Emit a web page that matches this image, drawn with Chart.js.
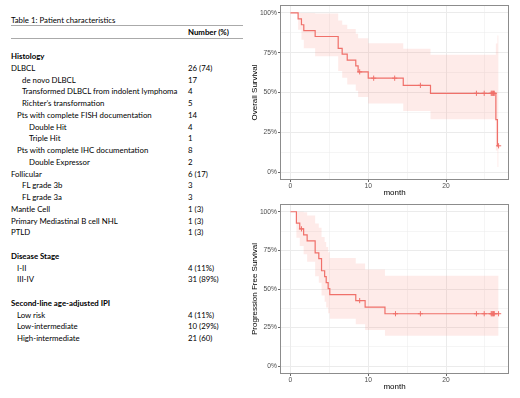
<!DOCTYPE html>
<html>
<head>
<meta charset="utf-8">
<script src="https://cdn.jsdelivr.net/npm/chart.js@4.4.0/dist/chart.umd.min.js"></script>
<style>
  html, body { margin: 0; padding: 0; background: #fff; }
  body { width: 520px; height: 398px; position: relative; overflow: hidden; color: #000; font-family: Lato, "Open Sans", sans-serif; }
  .row { position: absolute; white-space: nowrap; line-height: 12px; height: 12px; }
  .rule { position: absolute; left: 11px; width: 232px; height: 0; border-top: 1px solid #aaa; }
  canvas { position: absolute; }
</style>
</head>
<body>
<div id="table"></div>
<canvas id="osChart" width="265" height="200" style="left:250px;top:0px"></canvas>
<canvas id="pfsChart" width="265" height="203" style="left:250px;top:195px"></canvas>
<script>
// table rows (slot = row number below the header)
const rowLabels = ["Histology", "DLBCL", "de novo DLBCL", "Transformed DLBCL from indolent lymphoma",
  "Richter’s transformation", "Pts with complete FISH documentation", "Double Hit", "Triple Hit",
  "Pts with complete IHC documentation", "Double Expressor", "Follicular", "FL grade 3b", "FL grade 3a",
  "Mantle Cell", "Primary Mediastinal B cell NHL", "PTLD", "", "Disease Stage", "I-II", "III-IV", "",
  "Second-line age-adjusted IPI", "Low risk", "Low-intermediate", "High-intermediate"];
const rowValues = ["", "26 (74)", "17", "4", "5", "14", "4", "1", "8", "2", "6 (17)", "3", "3",
  "1 (3)", "1 (3)", "1 (3)", "", "", "4 (11%)", "31 (89%)", "", "", "4 (11%)", "10 (29%)", "21 (60)"];
const rowLevel = [0, 0, 2, 2, 2, 1, 3, 3, 1, 3, 0, 2, 2, 0, 0, 0, 0, 0, 1, 1, 0, 0, 1, 1, 1];
const rowBold = ["Histology", "Disease Stage", "Second-line age-adjusted IPI"];

// overall survival (KM estimate, 95% CI) and censor marks
const osTime  = [0, 0.99, 1.42, 1.72, 3.18, 6.14, 6.65, 7.3, 8.4, 8.7, 10.0, 14.5, 18.0, 26.4, 26.6, 26.75];
const osSurv  = [1, 0.963, 0.926, 0.889, 0.852, 0.778, 0.741, 0.704, 0.667, 0.630, 0.590, 0.545, 0.495, 0.330, 0.165, 0.165];
const osLower = [1, 0.894, 0.832, 0.778, 0.728, 0.636, 0.593, 0.551, 0.511, 0.472, 0.431, 0.383, 0.332, 0.135, 0.032, 0.032];
const osUpper = [1, 1, 1, 1, 0.997, 0.952, 0.926, 0.899, 0.870, 0.841, 0.809, 0.775, 0.738, 0.808, 0.859, 0.859];
const osCensorTime = [8.9, 10.7, 13.4, 16.7, 23.9, 24.9, 25.8, 25.9, 26.0, 26.1, 26.2, 26.75];
const osCensorSurv = [0.630, 0.590, 0.590, 0.545, 0.495, 0.495, 0.495, 0.495, 0.495, 0.495, 0.495, 0.165];

// progression free survival
const pfsTime  = [0, 0.77, 1.2, 1.7, 2.15, 3.18, 3.65, 4.0, 4.4, 4.6, 4.85, 5.06, 8.4, 9.6, 12.15, 26.75];
const pfsSurv  = [1, 0.926, 0.889, 0.850, 0.812, 0.734, 0.696, 0.618, 0.580, 0.541, 0.502, 0.464, 0.425, 0.383, 0.340, 0.340];
const pfsLower = [1, 0.832, 0.778, 0.725, 0.676, 0.583, 0.540, 0.458, 0.418, 0.380, 0.343, 0.307, 0.272, 0.234, 0.197, 0.197];
const pfsUpper = [1, 1, 1, 0.997, 0.975, 0.924, 0.896, 0.836, 0.804, 0.771, 0.737, 0.701, 0.665, 0.626, 0.586, 0.586];
const pfsCensorTime = [1.42, 8.9, 13.5, 16.7, 23.9, 24.9, 25.8, 25.9, 26.0, 26.1, 26.2, 26.75];
const pfsCensorSurv = [0.889, 0.425, 0.340, 0.340, 0.340, 0.340, 0.340, 0.340, 0.340, 0.340, 0.340, 0.340];

const xTicks = [0, 5, 10, 15, 20, 25];
const yTicks = [0, 0.125, 0.25, 0.375, 0.5, 0.625, 0.75, 0.875, 1];

// ---- table ----
const table = document.getElementById("table");
const mctx = document.createElement("canvas").getContext("2d");
mctx.font = "10px Lato";
const fs = 10 * 156 / mctx.measureText("Transformed DLBCL from indolent lymphoma").width;
const indent = [11, 17, 22, 29];

const addText = (txt, x, cy, bold) => {
  const d = document.createElement("div");
  d.className = "row";
  d.textContent = txt;
  d.style.left = x + "px";
  d.style.top = (cy - 6) + "px";
  d.style.fontSize = fs + "px";
  if (bold) d.style.fontWeight = "bold";
  table.appendChild(d);
};
const addRule = (y) => {
  const d = document.createElement("div");
  d.className = "rule";
  d.style.top = y + "px";
  table.appendChild(d);
};

addText("Table 1: Patient characteristics", 11, 20, false);
addRule(25);
addText("Number (%)", 188, 32, true);
addRule(38);
rowLabels.forEach((lab, i) => {
  const cy = 56 + 11.75 * i;
  if (lab) addText(lab, indent[rowLevel[i]], cy, rowBold.includes(lab));
  if (rowValues[i]) addText(rowValues[i], 188, cy, false);
});

// ---- charts ----
const red = "#F0706A";
const band = "rgba(248,118,109,0.15)";
const tickFont = { family: "'Liberation Sans', Arial, sans-serif", size: 6.7 };
const titleFont = { family: "'Liberation Sans', Arial, sans-serif", size: 8 };

const frame = {
  id: "frame",
  afterDatasetsDraw(chart) {
    const { ctx, chartArea: a } = chart;
    ctx.save();
    ctx.strokeStyle = "#8c8c8c";
    ctx.lineWidth = 1;
    ctx.strokeRect(Math.round(a.left) + 0.5, Math.round(a.top) + 0.5,
      Math.round(a.right - a.left) - 1, Math.round(a.bottom - a.top) - 1);
    ctx.restore();
  }
};

const pts = (xs, ys) => xs.map((x, i) => ({ x: x, y: ys[i] }));

const makeChart = (id, yTitle, t, s, lo, up, ct, cs, pad) => {
  return new Chart(document.getElementById(id).getContext("2d"), {
    type: "line",
    data: {
      datasets: [
        { data: pts(ct, cs), showLine: false, pointStyle: "cross", pointRadius: 2.6,
          borderColor: red, borderWidth: 1, pointBorderColor: red },
        { data: pts(t, s), stepped: true, borderColor: red, borderWidth: 1.2, pointRadius: 0, fill: false },
        { data: pts(t, up), stepped: true, borderWidth: 0, pointRadius: 0, fill: "+1", backgroundColor: band },
        { data: pts(t, lo), stepped: true, borderWidth: 0, pointRadius: 0, fill: false }
      ]
    },
    options: {
      responsive: false,
      animation: false,
      layout: { padding: pad },
      plugins: { legend: { display: false }, tooltip: { enabled: false } },
      scales: {
        x: {
          type: "linear", min: -1.3375, max: 28.0875,
          afterBuildTicks: (sc) => { sc.ticks = xTicks.map(v => ({ value: v })); },
          afterFit: (sc) => { sc.height = 18; },
          ticks: { callback: v => (v % 10 === 0 ? v : ""), font: tickFont, color: "#4d4d4d",
            padding: 0, maxRotation: 0, autoSkip: false },
          grid: { color: "#ebebeb", lineWidth: c => (c.tick && c.tick.value % 10 === 0 ? 1 : 0.5),
            tickLength: 2, tickColor: c => (c.tick && c.tick.value % 10 === 0 ? "#666" : "rgba(0,0,0,0)") },
          border: { display: false },
          title: { display: true, text: "month", font: titleFont, color: "#000", padding: 0 }
        },
        y: {
          min: -0.05, max: 1.05,
          afterBuildTicks: (sc) => { sc.ticks = yTicks.map(v => ({ value: v })); },
          afterFit: (sc) => { sc.width = 30; },
          ticks: { callback: v => (Math.abs(v * 4 - Math.round(v * 4)) < 1e-6 ? Math.round(v * 100) + "%" : ""),
            font: tickFont, color: "#4d4d4d", padding: 1, autoSkip: false },
          grid: { color: "#ebebeb",
            lineWidth: c => (c.tick && Math.abs(c.tick.value * 4 - Math.round(c.tick.value * 4)) < 1e-6 ? 1 : 0.5),
            tickLength: 2,
            tickColor: c => (c.tick && Math.abs(c.tick.value * 4 - Math.round(c.tick.value * 4)) < 1e-6 ? "#666" : "rgba(0,0,0,0)") },
          border: { display: false },
          title: { display: true, text: yTitle, font: titleFont, color: "#000", padding: 0 }
        }
      }
    },
    plugins: [frame]
  });
};

makeChart("osChart", "Overall Survival", osTime, osSurv, osLower, osUpper, osCensorTime, osCensorSurv,
  { left: 0, top: 5, right: 6, bottom: 2 });
makeChart("pfsChart", "Progression Free Survival", pfsTime, pfsSurv, pfsLower, pfsUpper, pfsCensorTime, pfsCensorSurv,
  { left: 0, top: 9, right: 6, bottom: 6 });
</script>
</body>
</html>
